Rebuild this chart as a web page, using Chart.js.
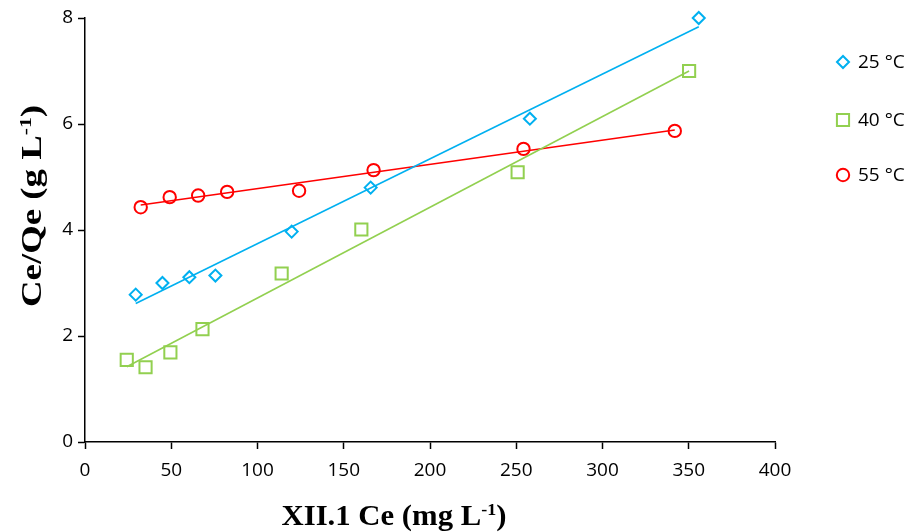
<!DOCTYPE html>
<html>
<head>
<meta charset="utf-8">
<script src="https://cdn.jsdelivr.net/npm/chart.js@4.4.1/dist/chart.umd.min.js"></script>
<style>
  html, body { margin: 0; padding: 0; background: #fff; }
  #wrap { width: 911px; height: 532px; position: relative; }
</style>
</head>
<body>
<div id="wrap"><canvas id="chart"></canvas></div>
<script>
// Langmuir plot: Ce/Qe against Ce at three temperatures
const seriesNames = ['25 °C', '40 °C', '55 °C'];
const ce25 = [29.4, 44.9, 60.5, 75.6, 119.8, 165.6, 257.9, 355.8];
const ratio25 = [2.78, 3.00, 3.11, 3.14, 3.97, 4.80, 6.10, 8.00];
const ce40 = [24.2, 35.1, 49.5, 68.1, 114.0, 160.2, 250.8, 350.2];
const ratio40 = [1.55, 1.41, 1.69, 2.13, 3.18, 4.01, 5.09, 7.00];
const ce55 = [32.3, 49.1, 65.6, 82.4, 124.1, 167.3, 254.2, 341.9];
const ratio55 = [4.43, 4.62, 4.65, 4.72, 4.74, 5.13, 5.53, 5.87];
const xTicks = [0, 50, 100, 150, 200, 250, 300, 350, 400];
const yTicks = [0, 2, 4, 6, 8];

const colors = ['#00B0F0', '#92D050', '#FF0000'];
const styles = [
  { pointStyle: 'rectRot', radius: 6 },
  { pointStyle: 'rect', radius: 8.6 },
  { pointStyle: 'circle', radius: 6.2 }
];
const legendY = [62, 120, 175];

function toPoints(xs, ys) {
  return xs.map((x, i) => ({ x: x, y: ys[i] }));
}

// least-squares line over the measured range (like a spreadsheet trendline)
function trendline(xs, ys) {
  const n = xs.length;
  const mx = xs.reduce((a, b) => a + b, 0) / n;
  const my = ys.reduce((a, b) => a + b, 0) / n;
  let sxy = 0, sxx = 0;
  for (let i = 0; i < n; i++) {
    sxy += (xs[i] - mx) * (ys[i] - my);
    sxx += (xs[i] - mx) * (xs[i] - mx);
  }
  const slope = sxy / sxx;
  const x0 = Math.min(...xs), x1 = Math.max(...xs);
  return [
    { x: x0, y: my + slope * (x0 - mx) },
    { x: x1, y: my + slope * (x1 - mx) }
  ];
}

const series = [[ce25, ratio25], [ce40, ratio40], [ce55, ratio55]];

const datasets = [];
series.forEach(([xs, ys], i) => {
  datasets.push({
    type: 'line',
    label: seriesNames[i] + ' fit',
    data: trendline(xs, ys),
    borderColor: colors[i],
    borderWidth: 1.6,
    pointRadius: 0,
    fill: false,
    clip: false,
    order: 2
  });
});
series.forEach(([xs, ys], i) => {
  datasets.push({
    type: 'scatter',
    label: seriesNames[i],
    data: toPoints(xs, ys),
    borderColor: colors[i],
    backgroundColor: 'rgba(0,0,0,0)',
    borderWidth: 2,
    pointStyle: styles[i].pointStyle,
    pointRadius: styles[i].radius,
    clip: false,
    order: 1
  });
});

// axis titles with superscripts, and the legend on the right
const extras = {
  id: 'extras',
  afterDraw(chart) {
    const ctx = chart.ctx;

    function drawTitle(parts, cx, baseline, target, rotate) {
      ctx.save();
      const big = 'bold 29px "Liberation Serif", "Times New Roman", serif';
      const small = 'bold 17px "Liberation Serif", "Times New Roman", serif';
      let width = 0;
      parts.forEach(p => {
        ctx.font = p.sup ? small : big;
        width += ctx.measureText(p.text).width;
      });
      const k = target / width;
      ctx.translate(cx, baseline);
      if (rotate) ctx.rotate(-Math.PI / 2);
      ctx.scale(k, 1);
      ctx.fillStyle = '#000';
      ctx.textBaseline = 'alphabetic';
      ctx.textAlign = 'left';
      let x = -width / 2;
      parts.forEach(p => {
        ctx.font = p.sup ? small : big;
        ctx.fillText(p.text, x, p.sup ? -10 : 0);
        x += ctx.measureText(p.text).width;
      });
      ctx.restore();
    }

    drawTitle([{ text: 'XII.1 Ce (mg L' }, { text: '-1', sup: true }, { text: ')' }],
      394, 525, 225, false);
    drawTitle([{ text: 'Ce/Qe (g L' }, { text: '-1', sup: true }, { text: ')' }],
      41, 206, 202, true);

    // legend: same marker as the series, then its name
    seriesNames.forEach((name, i) => {
      ctx.save();
      ctx.strokeStyle = colors[i];
      ctx.fillStyle = 'rgba(0,0,0,0)';
      ctx.lineWidth = 2;
      Chart.helpers.drawPoint(ctx, {
        pointStyle: styles[i].pointStyle,
        radius: styles[i].radius,
        borderWidth: 2
      }, 843, legendY[i]);
      ctx.restore();
    });
    ctx.save();
    ctx.font = '19px "Open Sans", "Noto Sans", sans-serif';
    ctx.fillStyle = '#000';
    ctx.textBaseline = 'middle';
    ctx.textAlign = 'left';
    seriesNames.forEach((name, i) => {
      ctx.fillText(name, 858, legendY[i] + 1);
    });
    ctx.restore();
  }
};

const axisFont = { family: '"Open Sans", "Noto Sans", sans-serif', size: 19 };

new Chart(document.getElementById('chart'), {
  type: 'scatter',
  data: { datasets: datasets },
  plugins: [extras],
  options: {
    responsive: true,
    maintainAspectRatio: false,
    animation: false,
    layout: { padding: { left: 0, right: 136, top: 18, bottom: 0 } },
    plugins: {
      legend: { display: false },
      tooltip: { enabled: false }
    },
    scales: {
      x: {
        type: 'linear',
        min: 0,
        max: 400,
        afterBuildTicks: scale => { scale.ticks = xTicks.map(v => ({ value: v })); },
        afterFit: scale => { scale.height = 90; },
        ticks: { color: '#000', font: axisFont, padding: 10, maxRotation: 0 },
        grid: {
          drawOnChartArea: false,
          drawTicks: true,
          tickLength: 7,
          tickColor: '#000',
          tickWidth: 1.5
        },
        border: { display: true, color: '#000', width: 1.5 }
      },
      y: {
        type: 'linear',
        min: 0,
        max: 8,
        afterBuildTicks: scale => { scale.ticks = yTicks.map(v => ({ value: v })); },
        afterFit: scale => { scale.width = 85; },
        ticks: { color: '#000', font: axisFont, padding: 5 },
        grid: {
          drawOnChartArea: false,
          drawTicks: true,
          tickLength: 7,
          tickColor: '#000',
          tickWidth: 1.5
        },
        border: { display: true, color: '#000', width: 1.5 }
      }
    }
  }
});
</script>
</body>
</html>
